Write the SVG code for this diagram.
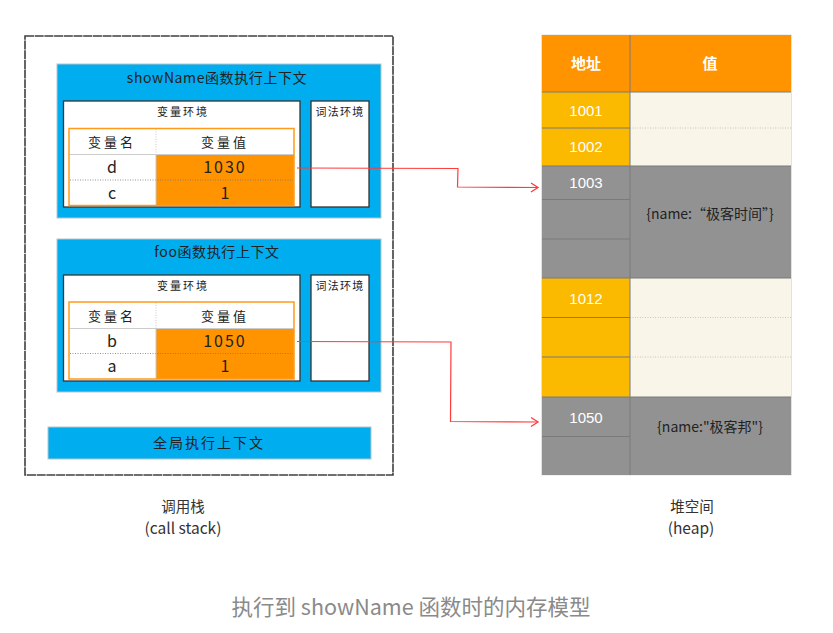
<svg xmlns="http://www.w3.org/2000/svg" width="833" height="633" viewBox="0 0 833 633">
  <defs>
    <style>
      .hand { font-family: "Noto Sans CJK SC", "Liberation Sans", sans-serif; fill: #222; }
      .ctx { fill: #00adef; stroke: #b8c4cc; stroke-width: 1; }
      .env { fill: #ffffff; stroke: #333; stroke-width: 1.3; }
      .tbl-bg { fill: #ffffff; }
      .tbl { fill: none; stroke: #ff9a1a; stroke-width: 1.5; }
      .val { fill: #ff9400; }
      .dot { stroke: #777; stroke-width: 0.8; stroke-dasharray: 1 1.5; fill: none; }
      .hdot { stroke: #bbb; stroke-width: 0.8; stroke-dasharray: 1 1.5; fill: none; }
      .heap { font-family: "Liberation Sans", "Noto Sans CJK SC", sans-serif; fill: #ffffff; font-size: 15px; text-anchor: middle; }
      .obj { font-family: "Noto Sans CJK SC", "Liberation Sans", sans-serif; fill: #222; font-size: 14px; text-anchor: middle; }
      .cell { stroke: #7a7a7a; stroke-width: 1; }
      .label { font-family: "Noto Sans CJK SC", "Liberation Sans", sans-serif; fill: #333; text-anchor: middle; }
      .caption { font-family: "Noto Sans CJK SC", "Liberation Sans", sans-serif; fill: #8a8a8a; text-anchor: middle; }
      .link { fill: none; stroke: #ff3b3b; stroke-width: 1.2; marker-end: url(#chev); }
    </style>
    <marker id="chev" markerUnits="userSpaceOnUse" markerWidth="12" markerHeight="12" refX="9" refY="6" orient="auto">
      <path d="M2,1.5 L9,6 L2,10.5" fill="none" stroke="#ff3b3b" stroke-width="1.3"/>
    </marker>
  </defs>

  <!-- call stack frame -->
  <g id="call-stack">
    <rect x="25" y="36" width="368" height="439" fill="#ffffff" stroke="#404040" stroke-width="1.6" stroke-dasharray="9 0.7"/>
  </g>

  <!-- showName execution context -->
  <g id="showName-context">
    <rect class="ctx" x="57" y="64" width="324" height="154"/>
    <text class="hand" x="217" y="83" font-size="14" text-anchor="middle" letter-spacing="0.6">showName函数执行上下文</text>
    <rect class="env" x="63.5" y="101" width="236.5" height="106"/>
    <text class="hand" x="183" y="116" font-size="11" text-anchor="middle" letter-spacing="2">变量环境</text>
    <rect class="env" x="311" y="101" width="58" height="106"/>
    <text class="hand" x="340" y="116" font-size="11" text-anchor="middle" letter-spacing="1.2">词法环境</text>
    <rect class="tbl-bg" x="69" y="128.5" width="225" height="77"/>
    <rect class="val" x="156" y="154.5" width="138" height="51"/>
    <line class="hdot" x1="156" y1="129" x2="156" y2="154"/>
    <line x1="69.5" y1="154.5" x2="293.5" y2="154.5" stroke="#ccc" stroke-width="1"/>
    <line class="dot" x1="70" y1="180" x2="293" y2="180"/>
    <line x1="156" y1="154" x2="156" y2="205" stroke="#c8c8c8" stroke-width="1"/>
    <rect class="tbl" x="69" y="128.5" width="225" height="77"/>
    <text class="hand" x="112" y="147" font-size="13" text-anchor="middle" letter-spacing="3">变量名</text>
    <text class="hand" x="225" y="147" font-size="13" text-anchor="middle" letter-spacing="3">变量值</text>
    <text class="hand" x="112" y="173" font-size="16" text-anchor="middle">d</text>
    <text class="hand" x="225" y="173" font-size="16" text-anchor="middle" letter-spacing="2">1030</text>
    <text class="hand" x="112" y="198.5" font-size="16" text-anchor="middle">c</text>
    <text class="hand" x="225" y="198.5" font-size="16" text-anchor="middle">1</text>
  </g>

  <!-- foo execution context -->
  <g id="foo-context">
    <rect class="ctx" x="57" y="239" width="324" height="153"/>
    <text class="hand" x="217" y="257" font-size="14" text-anchor="middle" letter-spacing="0.6">foo函数执行上下文</text>
    <rect class="env" x="63.5" y="275" width="236.5" height="106"/>
    <text class="hand" x="183" y="290" font-size="11" text-anchor="middle" letter-spacing="2">变量环境</text>
    <rect class="env" x="311" y="275" width="58" height="106"/>
    <text class="hand" x="340" y="290" font-size="11" text-anchor="middle" letter-spacing="1.2">词法环境</text>
    <rect class="tbl-bg" x="69" y="302" width="225" height="77"/>
    <rect class="val" x="156" y="328.5" width="138" height="50.5"/>
    <line class="hdot" x1="156" y1="302.5" x2="156" y2="328"/>
    <line x1="69.5" y1="328.5" x2="293.5" y2="328.5" stroke="#ccc" stroke-width="1"/>
    <line class="dot" x1="70" y1="353.5" x2="293" y2="353.5"/>
    <line x1="156" y1="328" x2="156" y2="378.5" stroke="#c8c8c8" stroke-width="1"/>
    <rect class="tbl" x="69" y="302" width="225" height="77"/>
    <text class="hand" x="112" y="321" font-size="13" text-anchor="middle" letter-spacing="3">变量名</text>
    <text class="hand" x="225" y="321" font-size="13" text-anchor="middle" letter-spacing="3">变量值</text>
    <text class="hand" x="112" y="347" font-size="16" text-anchor="middle">b</text>
    <text class="hand" x="225" y="347" font-size="16" text-anchor="middle" letter-spacing="2">1050</text>
    <text class="hand" x="112" y="372" font-size="16" text-anchor="middle">a</text>
    <text class="hand" x="225" y="372" font-size="16" text-anchor="middle">1</text>
  </g>

  <!-- global execution context -->
  <g id="global-context">
    <rect class="ctx" x="48" y="427" width="323" height="32"/>
    <text class="hand" x="209" y="448" font-size="14" text-anchor="middle" letter-spacing="2">全局执行上下文</text>
  </g>

  <!-- heap table -->
  <g id="heap">
    <rect x="541.5" y="35" width="250" height="440" fill="#ffffff" stroke="#e2e2e2" stroke-width="1"/>
    <!-- header -->
    <rect x="542" y="35" width="249" height="57" fill="#ff9400"/>
    <!-- 1001 / 1002 -->
    <rect x="542" y="92" width="88" height="74" fill="#fbb900"/>
    <rect x="630" y="92" width="161" height="74" fill="#f9f5e8"/>
    <!-- 1003 object -->
    <rect x="542" y="166" width="249" height="112" fill="#929292"/>
    <!-- 1012 -->
    <rect x="542" y="278" width="88" height="119" fill="#fbb900"/>
    <rect x="630" y="278" width="161" height="119" fill="#f9f5e8"/>
    <!-- 1050 object -->
    <rect x="542" y="397" width="249" height="78" fill="#929292"/>

    <!-- row rules -->
    <line class="cell" x1="542" y1="92" x2="791" y2="92"/>
    <line class="cell" x1="542" y1="128" x2="630" y2="128"/>
    <line class="hdot" x1="630" y1="128" x2="791" y2="128"/>
    <line class="cell" x1="542" y1="166" x2="791" y2="166"/>
    <line class="cell" x1="542" y1="199.5" x2="630" y2="199.5"/>
    <line class="cell" x1="542" y1="239" x2="630" y2="239"/>
    <line class="cell" x1="542" y1="278" x2="791" y2="278"/>
    <line class="cell" x1="542" y1="317.5" x2="630" y2="317.5"/>
    <line class="hdot" x1="630" y1="317.5" x2="791" y2="317.5"/>
    <line class="cell" x1="542" y1="357" x2="630" y2="357"/>
    <line class="hdot" x1="630" y1="357" x2="791" y2="357"/>
    <line class="cell" x1="542" y1="397" x2="791" y2="397"/>
    <line class="cell" x1="542" y1="436.5" x2="630" y2="436.5"/>
    <line class="cell" x1="630" y1="35" x2="630" y2="475"/>

    <text class="heap" x="586" y="69" font-size="16" font-weight="bold">地址</text>
    <text class="heap" x="710" y="69" font-size="16" font-weight="bold">值</text>
    <text class="heap" x="586" y="115.5">1001</text>
    <text class="heap" x="586" y="152">1002</text>
    <text class="heap" x="586" y="188">1003</text>
    <text class="heap" x="586" y="303.5">1012</text>
    <text class="heap" x="586" y="422.5">1050</text>
    <text class="obj" x="710" y="219">{name:“极客时间”}</text>
    <text class="obj" x="710" y="432">{name:"极客邦"}</text>
  </g>

  <!-- references from stack values to heap objects -->
  <g id="connectors">
    <path class="link" d="M297,168 L458,168.5 L457.5,187 L538,187.5"/>
    <path class="link" d="M297,341.5 L451,342 L450.5,421.5 L538,422"/>
  </g>

  <!-- captions -->
  <g id="captions">
    <text class="label" x="183" y="512" font-size="14.5">调用栈</text>
    <text class="label" x="183" y="534" font-size="15.5">(call stack)</text>
    <text class="label" x="692" y="512" font-size="14.5">堆空间</text>
    <text class="label" x="691" y="534" font-size="15.5">(heap)</text>
    <text class="caption" x="411" y="615" font-size="21.5">执行到 showName 函数时的内存模型</text>
  </g>
</svg>
